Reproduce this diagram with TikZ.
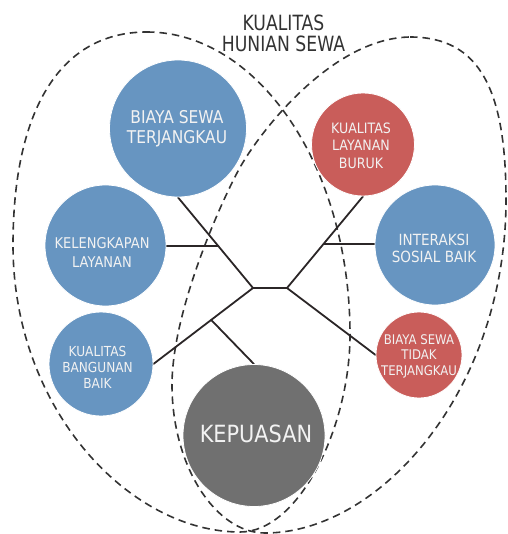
\documentclass[tikz,border=0pt]{standalone}
\usepackage{fontspec}
\newfontfamily\labfont[FakeStretch=0.88]{DejaVu Sans}
\newfontfamily\ttlfont[FakeStretch=0.82]{DejaVu Sans}
\usetikzlibrary{calc}
\pgfdeclarelayer{bg}
\pgfsetlayers{bg,main}
\definecolor{cblue}{RGB}{103,149,193}
\definecolor{cred}{RGB}{201,93,90}
\definecolor{cgray}{RGB}{112,112,112}
\definecolor{cline}{RGB}{43,38,39}
\definecolor{cdash}{RGB}{51,51,51}
\definecolor{ctxt}{RGB}{242,242,242}
\begin{document}
\begin{tikzpicture}[x=1pt,y=-1pt,
  bubble/.style={circle, draw=white, line width=0.8pt, inner sep=0pt},
  bluec/.style={bubble, fill=cblue},
  redc/.style={bubble, fill=cred},
  grayc/.style={bubble, fill=cgray},
  lab/.style={text=ctxt, align=center, inner sep=0pt},
  conn/.style={draw=cline, line width=1.8pt, line cap=round},
  zone/.style={draw=cdash, line width=1.6pt, dash pattern=on 7.5pt off 5pt}]
\useasboundingbox (0,0) rectangle (507,534);

% title
\node[font=\ttlfont\fontsize{21}{21}\selectfont, text=cdash, align=center, anchor=north, inner sep=0pt] (title) at (283.5,15) {KUALITAS\\HUNIAN SEWA};

% circles
\node[bluec, minimum size=137pt] (bst) at (178,128.5) {};
\node[bluec, minimum size=121pt] (kel) at (105.5,245.5) {};
\node[bluec, minimum size=104pt] (kbb) at (101,364) {};
\node[grayc, minimum size=142pt] (kep) at (254,435.5) {};
\node[redc, minimum size=103pt] (klb) at (363,144.5) {};
\node[bluec, minimum size=120pt] (isb) at (435,245) {};
\node[redc, minimum size=86pt] (bstt) at (419,355) {};

% labels
\node[lab, font=\labfont\fontsize{17.6}{20}\selectfont] (tbst) at (177,129) {BIAYA SEWA\\TERJANGKAU};
\node[lab, font=\labfont\fontsize{14.8}{19}\selectfont] (tkel) at (102,253) {KELENGKAPAN\\LAYANAN};
\node[lab, font=\labfont\fontsize{13.8}{16}\selectfont] (tkbb) at (97.5,367) {KUALITAS\\BANGUNAN\\BAIK};
\node[lab, font=\labfont\fontsize{23.7}{24}\selectfont] (tkep) at (256,433.5) {KEPUASAN};
\node[lab, font=\labfont\fontsize{14.3}{17.5}\selectfont] (tklb) at (361,145.5) {KUALITAS\\LAYANAN\\BURUK};
\node[lab, font=\labfont\fontsize{15.4}{17}\selectfont] (tisb) at (434,248.5) {INTERAKSI\\SOSIAL BAIK};
\node[lab, font=\labfont\fontsize{13.3}{15.5}\selectfont] (tbstt) at (419,356) {BIAYA SEWA\\TIDAK\\TERJANGKAU};

\begin{pgfonlayer}{bg}
% dashed zones
\draw[zone] (147,32) .. controls (257,32) and (350,165) .. (350,335)
  .. controls (350,425) and (300,532) .. (240,532)
  .. controls (130,532) and (13,410) .. (13,245)
  .. controls (13,115) and (57,32) .. (147,32) -- cycle;
\draw[zone] (410,37) .. controls (480,37) and (506,90) .. (506,200)
  .. controls (506,390) and (380,533) .. (265,533)
  .. controls (215,533) and (172,465) .. (172,385)
  .. controls (172,315) and (216,213) .. (237,173)
  .. controls (255,137.5) and (330,38) .. (410,37) -- cycle;

% connectors
\coordinate (j1) at (253,288);
\coordinate (j2) at (287,288);
\coordinate (b1) at ($(j1)!0.46!(bst.south)$);
\coordinate (b2) at ($(j1)!0.42!(kbb.east)$);
\coordinate (b3) at ($(j2)!0.48!(klb.south)$);
\draw[conn] (j1) -- (j2);
\draw[conn] (j1) -- (bst.south);
\draw[conn] (j1) -- (kbb.east);
\draw[conn] (j2) -- (klb.south);
\draw[conn] (j2) -- (bstt.west);
\draw[conn] (b1) -- (b1 -| kel.east);
\draw[conn] (b2) -- (kep.north);
\draw[conn] (b3) -- (b3 -| isb.west);
\end{pgfonlayer}
\end{tikzpicture}
\end{document}
